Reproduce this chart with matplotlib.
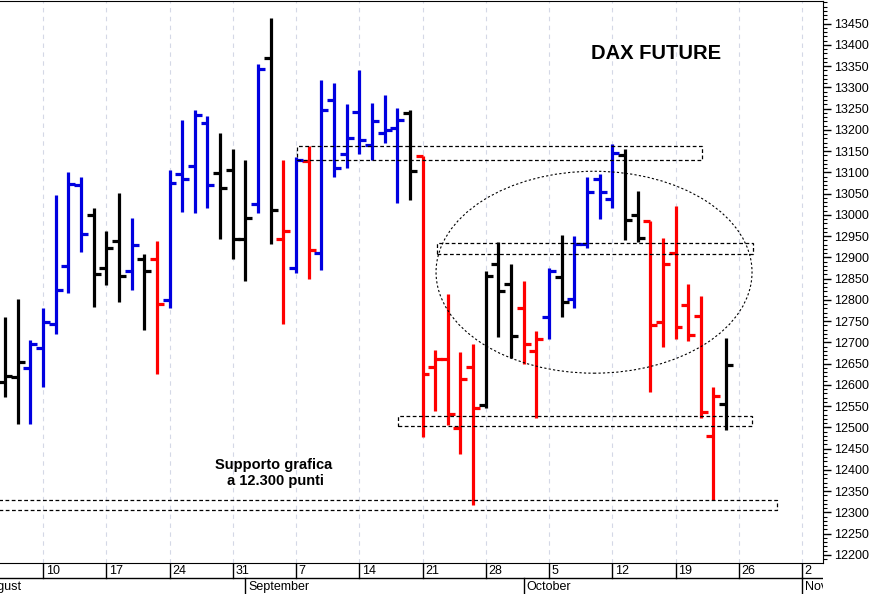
import numpy as np
import pandas as pd
import matplotlib
matplotlib.use('Agg')
import matplotlib.pyplot as plt
from matplotlib.patches import Ellipse, Rectangle
from matplotlib.ticker import MultipleLocator

plt.rcParams['font.family'] = ['Liberation Sans', 'DejaVu Sans']

# barre giornaliere DAX future, dal 4 agosto al 23 ottobre 2020
aperture = [12650, 12607, 12619, 12639, 12686, 12743, 12880, 13070, 13000, 12876,
            12939, 12867, 12897, 12897, 12799, 13095, 13115, 13217, 13099, 13105,
            12942, 13025, 13369, 12944, 12876, 13126, 12910, 13271, 13144, 13243,
            13165, 13193, 13205, 13240, 13138, 12643, 12661, 12498, 12641, 12552,
            12884, 12837, 12780, 12679, 12759, 12854, 12801, 12931, 13085, 13038,
            13141, 13000, 12986, 12747, 12910, 12787, 12762, 12480, 12554]
massimi = [12672, 12760, 12801, 12705, 12780, 13046, 13101, 13090, 13015, 12962,
           13052, 12993, 12909, 12939, 13106, 13224, 13247, 13232, 13192, 13154,
           13128, 13355, 13463, 13128, 13136, 13161, 13318, 13311, 13260, 13341,
           13264, 13281, 13252, 13246, 13138, 12683, 12813, 12678, 12696, 12868,
           12935, 12884, 12845, 12727, 12876, 12952, 12950, 13089, 13097, 13166,
           13154, 13055, 12986, 12946, 13020, 12838, 12809, 12596, 12711]
minimi = [12598, 12572, 12509, 12508, 12594, 12719, 12817, 12913, 12783, 12836,
          12794, 12824, 12730, 12625, 12780, 13007, 13005, 13015, 12943, 12897,
          12844, 13005, 12931, 12744, 12864, 12850, 12871, 13090, 13109, 13142,
          13130, 13170, 13029, 13034, 12478, 12539, 12505, 12437, 12317, 12545,
          12713, 12664, 12649, 12523, 12709, 12759, 12782, 12922, 12991, 13016,
          12940, 12936, 12584, 12689, 12708, 12703, 12523, 12329, 12494]
chiusure = [12621, 12621, 12653, 12697, 12748, 12824, 13073, 12955, 12860, 12921,
            12856, 12930, 12867, 12791, 13076, 13085, 13234, 13069, 13064, 12944,
            12993, 13342, 13012, 12961, 13128, 12918, 13246, 13110, 13181, 13175,
            13220, 13199, 13222, 13102, 12625, 12661, 12531, 12613, 12545, 12856,
            12820, 12715, 12696, 12708, 12867, 12794, 12931, 13054, 13054, 13146,
            12989, 12946, 12742, 12884, 12735, 12717, 12537, 12574, 12646]
# segnale del sistema: k neutro, b rialzo, r ribasso
segnali = list('kkkbbbbbkkkbkrbbbbkkkbkrbrbbbbbbbkrrrrrkkkrrbkbbbbkkrrrrrrk')

# zone disegnate a mano (inizio, fine in barre; prezzo basso, alto)
zone = [(24.08, 56.1, 13130, 13162),
        (35.12, 60.1, 12909, 12934),
        (32.06, 60.05, 12503, 12527),
        (-1.0, 62.0, 12306, 12330)]
ellisse = (47.56, 12865, 24.98, 475)

colori = {'k': 'black', 'b': '#0000e0', 'r': '#ff0000'}

cal = pd.bdate_range('2020-08-03', '2020-11-06')
pos = np.arange(len(cal)) - 1          # 4 agosto = 0
x = pos[1:1 + len(chiusure)]
col = [colori[s] for s in segnali]

fig = plt.figure(figsize=(8.72, 5.94), dpi=100)
ax_w = 823 / 872
ax = fig.add_axes([0, 1 - 563 / 594, ax_w, 562 / 594])
xlim = (0.6, 65.66)
ax.set_xlim(xlim)
ax.set_ylim(12181, 13503)

# griglia settimanale
lunedi = pos[cal.weekday == 0]
for p in lunedi:
    ax.axvline(p, color='#d4d8e6', lw=0.8, ls=(0, (4, 4)), zorder=0)

w = 0.55
ax.vlines(x, minimi, massimi, colors=col, lw=2.3, zorder=2)
ax.hlines(aperture, x - w, x, colors=col, lw=2.3, zorder=2)
ax.hlines(chiusure, x, x + w, colors=col, lw=2.3, zorder=2)

for x0, x1, y0, y1 in zone:
    ax.add_patch(Rectangle((x0, y0), x1 - x0, y1 - y0, fill=False, ec='black',
                           lw=0.9, ls=(0, (3, 2)), zorder=3))
cx, cy, ew, eh = ellisse
ax.add_patch(Ellipse((cx, cy), ew, eh, fill=False, ec='black', lw=0.8,
                     ls=(0, (2, 2)), zorder=3))

ax.text(52.46, 13380, 'DAX FUTURE', fontsize=14.5, fontweight='bold',
        ha='center', va='center')
ax.text(22.2, 12393, 'Supporto grafica\n a 12.300 punti', fontsize=10.5,
        fontweight='bold', ha='center', va='center', linespacing=1.15)

ax.spines['left'].set_visible(False)
ax.set_xticks([])
ax.yaxis.tick_right()
ax.set_yticks(np.arange(12200, 13451, 50))
ax.yaxis.set_minor_locator(MultipleLocator(10))
ax.tick_params(axis='y', which='major', length=6, width=1, labelsize=9, pad=2)
ax.tick_params(axis='y', which='minor', length=3, width=0.8)

# asse delle date sotto il grafico
ax2 = fig.add_axes([0, 0, ax_w, 31 / 594])
ax2.set_xlim(xlim)
ax2.set_ylim(0, 1)
ax2.axis('off')
ax2.axhline(0.516, color='black', lw=1)
for p, d in zip(lunedi, cal[cal.weekday == 0]):
    if p < xlim[0]:
        continue
    ax2.plot([p, p], [0.516, 1], color='black', lw=1)
    ax2.text(p + 0.22, 0.75, str(d.day), fontsize=9, va='center', clip_on=True)
mesi = cal.to_series().groupby(cal.to_period('M')).min()
for d in mesi:
    p = pos[cal.get_loc(d)]
    ax2.plot([p, p], [0, 0.516], color='black', lw=1)
    ax2.text(p + 0.22, 0.24, d.strftime('%B'), fontsize=9, va='center',
             clip_on=True)

fig.savefig('out.png', dpi=100)
